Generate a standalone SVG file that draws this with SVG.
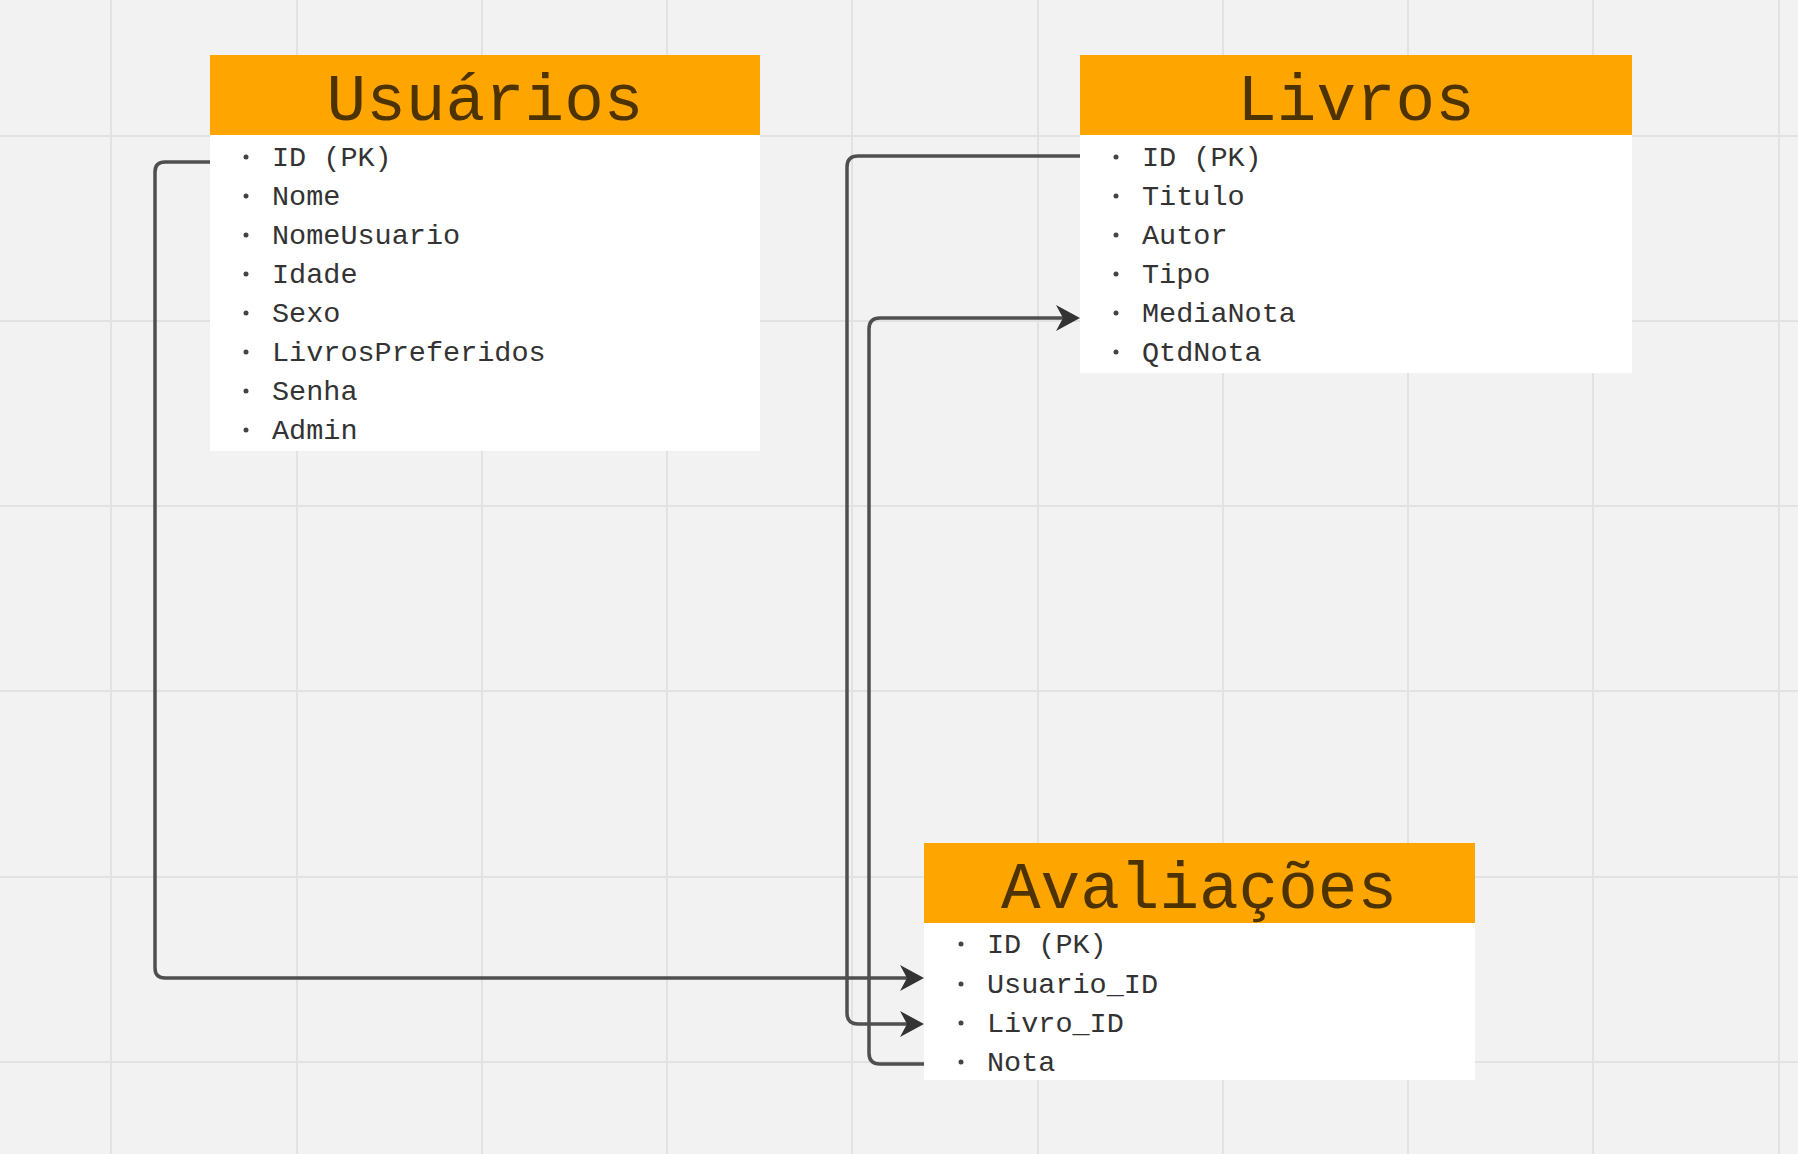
<svg xmlns="http://www.w3.org/2000/svg" width="1798" height="1154" viewBox="0 0 1798 1154">
<style>
.grid line{stroke:#e2e2e2;stroke-width:2}
.head{fill:#ffa500}
.body{fill:#ffffff}
.title{font-family:"Liberation Mono","DejaVu Sans Mono",monospace;font-size:66px;fill:#4d3300;text-anchor:middle}
.item{font-family:"Liberation Mono","DejaVu Sans Mono",monospace;font-size:28.5px;fill:#333333}
.dot{fill:#444444}
.conn path{fill:none;stroke:#4f4f4f;stroke-width:3.5;marker-end:url(#arr)}
</style>
<defs>
<marker id="arr" markerUnits="userSpaceOnUse" viewBox="0 0 24 26" markerWidth="24" markerHeight="26" refX="20" refY="13" orient="auto">
<path d="M0,0 L24,13 L0,26 L7,13 Z" fill="#333333"/>
</marker>
</defs>
<rect x="0" y="0" width="1798" height="1154" fill="#f2f2f2"/>
<g class="grid">
<line x1="111" y1="0" x2="111" y2="1154"/>
<line x1="297" y1="0" x2="297" y2="1154"/>
<line x1="482" y1="0" x2="482" y2="1154"/>
<line x1="667" y1="0" x2="667" y2="1154"/>
<line x1="852" y1="0" x2="852" y2="1154"/>
<line x1="1038" y1="0" x2="1038" y2="1154"/>
<line x1="1223" y1="0" x2="1223" y2="1154"/>
<line x1="1408" y1="0" x2="1408" y2="1154"/>
<line x1="1593" y1="0" x2="1593" y2="1154"/>
<line x1="1779" y1="0" x2="1779" y2="1154"/>
<line x1="0" y1="136" x2="1798" y2="136"/>
<line x1="0" y1="321" x2="1798" y2="321"/>
<line x1="0" y1="506" x2="1798" y2="506"/>
<line x1="0" y1="691" x2="1798" y2="691"/>
<line x1="0" y1="877" x2="1798" y2="877"/>
<line x1="0" y1="1062" x2="1798" y2="1062"/>
</g>
<g id="usuarios">
<rect class="body" x="210" y="135" width="550" height="316"/>
<rect class="head" x="210" y="55" width="550" height="80"/>
<text class="title" x="485" y="120">Usuários</text>
<circle class="dot" cx="246" cy="157" r="2.5"/><text class="item" x="272" y="166">ID (PK)</text>
<circle class="dot" cx="246" cy="196" r="2.5"/><text class="item" x="272" y="205">Nome</text>
<circle class="dot" cx="246" cy="235" r="2.5"/><text class="item" x="272" y="244">NomeUsuario</text>
<circle class="dot" cx="246" cy="274" r="2.5"/><text class="item" x="272" y="283">Idade</text>
<circle class="dot" cx="246" cy="313" r="2.5"/><text class="item" x="272" y="322">Sexo</text>
<circle class="dot" cx="246" cy="352" r="2.5"/><text class="item" x="272" y="361">LivrosPreferidos</text>
<circle class="dot" cx="246" cy="391" r="2.5"/><text class="item" x="272" y="400">Senha</text>
<circle class="dot" cx="246" cy="430" r="2.5"/><text class="item" x="272" y="439">Admin</text>
</g>
<g id="livros">
<rect class="body" x="1080" y="135" width="552" height="238"/>
<rect class="head" x="1080" y="55" width="552" height="80"/>
<text class="title" x="1356" y="120">Livros</text>
<circle class="dot" cx="1116" cy="157" r="2.5"/><text class="item" x="1142" y="166">ID (PK)</text>
<circle class="dot" cx="1116" cy="196" r="2.5"/><text class="item" x="1142" y="205">Titulo</text>
<circle class="dot" cx="1116" cy="235" r="2.5"/><text class="item" x="1142" y="244">Autor</text>
<circle class="dot" cx="1116" cy="274" r="2.5"/><text class="item" x="1142" y="283">Tipo</text>
<circle class="dot" cx="1116" cy="313" r="2.5"/><text class="item" x="1142" y="322">MediaNota</text>
<circle class="dot" cx="1116" cy="352" r="2.5"/><text class="item" x="1142" y="361">QtdNota</text>
</g>
<g id="avaliacoes">
<rect class="body" x="924" y="923" width="551" height="157"/>
<rect class="head" x="924" y="843" width="551" height="80"/>
<text class="title" x="1199" y="908">Avaliações</text>
<circle class="dot" cx="961" cy="944" r="2.5"/><text class="item" x="987" y="953">ID (PK)</text>
<circle class="dot" cx="961" cy="984" r="2.5"/><text class="item" x="987" y="993">Usuario_ID</text>
<circle class="dot" cx="961" cy="1023" r="2.5"/><text class="item" x="987" y="1032">Livro_ID</text>
<circle class="dot" cx="961" cy="1062" r="2.5"/><text class="item" x="987" y="1071">Nota</text>
</g>
<g class="conn" id="connectors">
<path d="M210,162 H165 Q155,162 155,172 V968 Q155,978 165,978 H920"/>
<path d="M1080,156 H858 Q847,156 847,167 V1013 Q847,1024 858,1024 H920"/>
<path d="M924,1064 H880 Q869,1064 869,1053 V329 Q869,318 880,318 H1076"/>
</g>
</svg>
